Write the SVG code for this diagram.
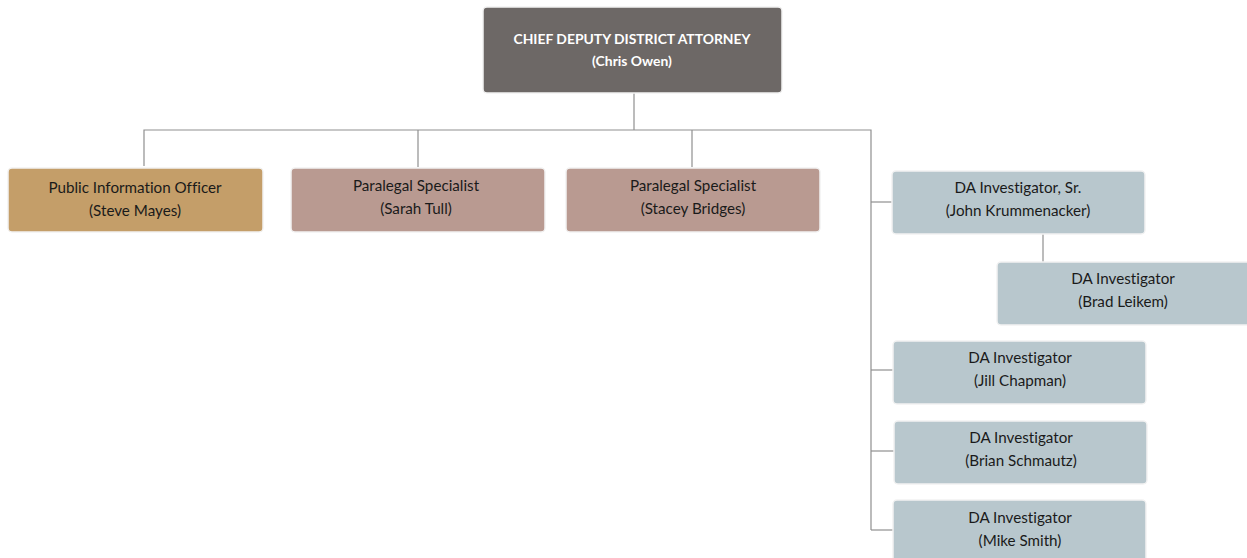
<svg xmlns="http://www.w3.org/2000/svg" width="1247" height="558" viewBox="0 0 1247 558">
  <style>
    .box { stroke: #f2f2f2; stroke-width: 1.5; }
    .chief { fill: #6d6866; }
    .pio { fill: #c49e69; }
    .para { fill: #b99a91; }
    .inv { fill: #b8c7cd; }
    text { font-family: Lato, "Open Sans", "Liberation Sans", sans-serif; font-size: 15.2px; fill: #1a1a1a; text-anchor: middle; font-variant-ligatures: none; }
    .head { font-weight: bold; fill: #ffffff; font-size: 13.9px; }
    .links path { fill: none; stroke: #8f8f8f; stroke-width: 1.2; }
  </style>
  <rect width="1247" height="558" fill="#ffffff"/>

  <g class="links">
    <path d="M634 92 V130"/>
    <path d="M144 166 V130 H871 V530"/>
    <path d="M418 130 V167"/>
    <path d="M692 130 V167"/>
    <path d="M871 202 H892"/>
    <path d="M871 370 H893"/>
    <path d="M871 451 H894"/>
    <path d="M871 530 H893"/>
    <path d="M1043 233 V262"/>
  </g>

  <g id="chief">
    <rect class="box chief" x="483" y="7" width="299" height="86" rx="4"/>
    <text class="head" x="632" y="44">CHIEF DEPUTY DISTRICT ATTORNEY</text>
    <text class="head" x="632" y="66">(Chris Owen)</text>
  </g>

  <g id="pio">
    <rect class="box pio" x="8" y="168" width="255" height="64" rx="4"/>
    <text x="135" y="193">Public Information Officer</text>
    <text x="135" y="216">(Steve Mayes)</text>
  </g>

  <g id="paralegal-tull">
    <rect class="box para" x="291" y="168" width="254" height="64" rx="4"/>
    <text x="416" y="191">Paralegal Specialist</text>
    <text x="416" y="214">(Sarah Tull)</text>
  </g>

  <g id="paralegal-bridges">
    <rect class="box para" x="566" y="168" width="254" height="64" rx="4"/>
    <text x="693" y="191">Paralegal Specialist</text>
    <text x="693" y="214">(Stacey Bridges)</text>
  </g>

  <g id="inv-krummenacker">
    <rect class="box inv" x="892" y="171" width="253" height="63" rx="4"/>
    <text x="1018" y="193">DA Investigator, Sr.</text>
    <text x="1018" y="216">(John Krummenacker)</text>
  </g>

  <g id="inv-leikem">
    <rect class="box inv" x="997" y="262" width="256" height="63" rx="4"/>
    <text x="1123" y="284">DA Investigator</text>
    <text x="1123" y="307">(Brad Leikem)</text>
  </g>

  <g id="inv-chapman">
    <rect class="box inv" x="893" y="341" width="253" height="63" rx="4"/>
    <text x="1020" y="363">DA Investigator</text>
    <text x="1020" y="386">(Jill Chapman)</text>
  </g>

  <g id="inv-schmautz">
    <rect class="box inv" x="894" y="421" width="253" height="63" rx="4"/>
    <text x="1021" y="443">DA Investigator</text>
    <text x="1021" y="466">(Brian Schmautz)</text>
  </g>

  <g id="inv-smith">
    <rect class="box inv" x="893" y="500" width="253" height="66" rx="4"/>
    <text x="1020" y="523">DA Investigator</text>
    <text x="1020" y="546">(Mike Smith)</text>
  </g>
</svg>
